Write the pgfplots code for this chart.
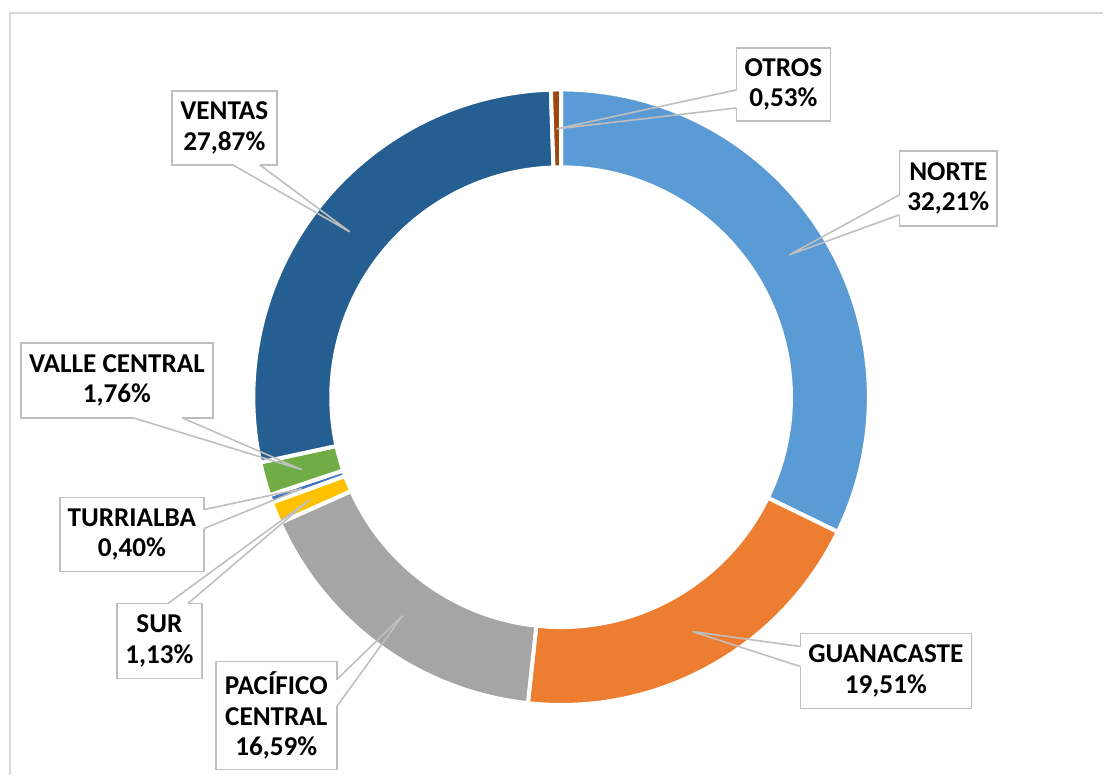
\documentclass[border=0pt]{standalone}
\usepackage{fontspec}
\setmainfont{Carlito}
\usepackage{pgfplots}
\usepackage{pgfplotstable}
\pgfplotsset{compat=1.18}
\usetikzlibrary{calc}

\definecolor{cNorte}{HTML}{5B9BD5}
\definecolor{cGuan}{HTML}{ED7D31}
\definecolor{cPac}{HTML}{A5A5A5}
\definecolor{cSur}{HTML}{FFC000}
\definecolor{cTur}{HTML}{4472C4}
\definecolor{cVal}{HTML}{70AD47}
\definecolor{cVen}{HTML}{255E91}
\definecolor{cOtr}{HTML}{9E480E}
\definecolor{boxgray}{HTML}{BFBFBF}
\definecolor{framegray}{HTML}{D9D9D9}

% region share (%), clockwise from 12 o'clock
\pgfplotstableread[col sep=comma]{
region,pct,color
NORTE,32.21,cNorte
GUANACASTE,19.51,cGuan
PACIFICO CENTRAL,16.59,cPac
SUR,1.13,cSur
TURRIALBA,0.40,cTur
VALLE CENTRAL,1.76,cVal
VENTAS,27.87,cVen
OTROS,0.53,cOtr
}\slices

% box corner, box corner, wedge base 1, wedge base 2, tip, text
\newcommand{\callout}[6]{%
  \draw[boxgray, fill=white, line width=0.8pt] #1 rectangle #2;
  \draw[white, line width=1.2pt] #3 -- #4;
  \draw[boxgray, line width=0.8pt] #3 -- #5 -- #4;
  \node[align=center, inner sep=0pt, font=\bfseries\fontsize{13.6}{15.3}\selectfont]
    at ($#1!0.5!#2$) {#6};
}

\begin{document}
\begin{tikzpicture}
\begin{axis}[
  width=552pt, height=388pt, scale only axis,
  xmin=0, xmax=1104, ymin=0, ymax=776, y dir=reverse,
  hide axis, clip=false,
]
\path (0,0) rectangle (1104,776);
\draw[framegray, line width=0.8pt] (10,776) -- (10,13) -- (1104,13);

\pgfplotstablegetrowsof{\slices}
\pgfmathtruncatemacro\nrows{\pgfplotsretval-1}
\def\cum{0}
\pgfplotsforeachungrouped \i in {0,...,\nrows}{%
  \pgfplotstablegetelem{\i}{pct}\of\slices\let\p\pgfplotsretval
  \pgfplotstablegetelem{\i}{color}\of\slices\let\c\pgfplotsretval
  \pgfmathsetmacro\aA{90-3.6*\cum}
  \pgfmathsetmacro\cum{\cum+\p}
  \pgfmathsetmacro\aB{90-3.6*\cum}
  \edef\tmp{\noexpand\filldraw[fill=\c, draw=white, line width=2pt,
      shift={(axis cs:561.5,397.5)}]
    (\aA:154pt) arc[start angle=\aA, end angle=\aB, radius=154pt]
    -- (\aB:115pt) arc[start angle=\aB, end angle=\aA, radius=115pt] -- cycle;}
  \tmp
}

\callout{(737,48)}{(831,121)}{(737,90)}{(737,108)}{(557,129)}{OTROS\\0,53\%}
\callout{(900,151)}{(998,226)}{(900,195)}{(900,215)}{(790,255)}{NORTE\\32,21\%}
\callout{(801,634)}{(972,709)}{(801,647)}{(801,667)}{(693,632)}{GUANACASTE\\19,51\%}
\callout{(216,662)}{(337,770)}{(337,680)}{(337,707)}{(403,616)}{PACÍFICO\\CENTRAL\\16,59\%}
\callout{(117,604)}{(202,679)}{(168,604)}{(188,604)}{(310,500)}{SUR\\1,13\%}
\callout{(60,498)}{(204,572)}{(204,510)}{(204,529)}{(302,489)}{TURRIALBA\\0,40\%}
\callout{(21,343)}{(213,418)}{(133,418)}{(182,418)}{(302,470)}{VALLE CENTRAL\\1,76\%}
\callout{(172,91)}{(277,165)}{(233,165)}{(260,165)}{(350,232)}{VENTAS\\27,87\%}
\end{axis}
\end{tikzpicture}
\end{document}
